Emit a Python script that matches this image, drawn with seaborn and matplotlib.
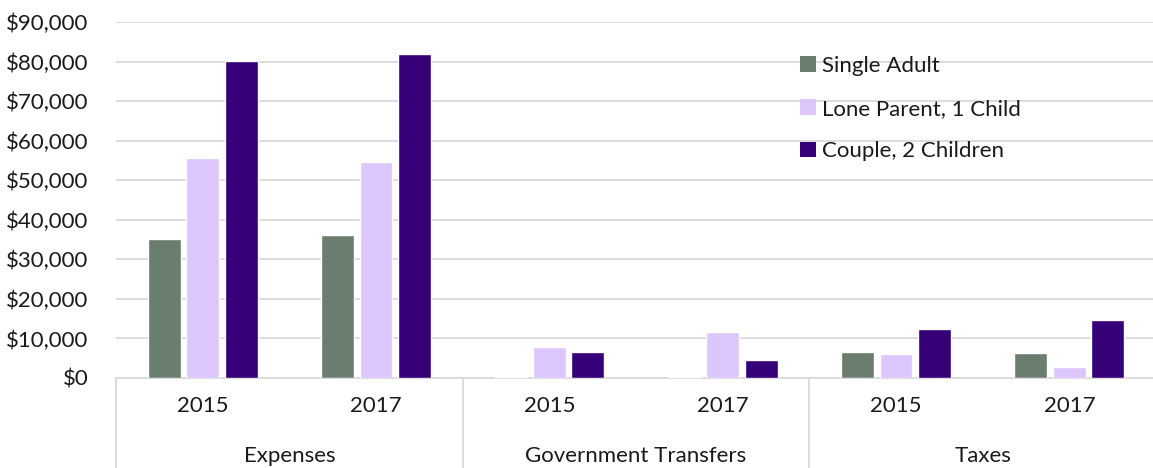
import matplotlib
matplotlib.use("Agg")
import matplotlib.pyplot as plt
import seaborn as sns
import pandas as pd
from matplotlib.ticker import FuncFormatter
from matplotlib.patches import Patch
from matplotlib.lines import Line2D

groups = ["Expenses", "Government Transfers", "Taxes"]
years = ["2015", "2017"]
series = ["Single Adult", "Lone Parent, 1 Child", "Couple, 2 Children"]
single_adult = [35200, 36200, 300, 300, 6600, 6200]
lone_parent = [55600, 54600, 7800, 11600, 6100, 2800]
couple = [80200, 82000, 6600, 4500, 12500, 14700]
colors = ["#6a7d6e", "#dcc6fc", "#350078"]

cats = [f"{g}|{y}" for g in groups for y in years]
rows = []
for s, vals in zip(series, [single_adult, lone_parent, couple]):
    for c, v in zip(cats, vals):
        rows.append({"cat": c, "series": s, "value": v})
df = pd.DataFrame(rows)

sns.set_style("white")
plt.rcParams["font.family"] = ["Lato", "DejaVu Sans"]

W, H = 1153, 468
fig = plt.figure(figsize=(W / 100, H / 100), dpi=100)
left, right, top, bottom = 116, 1156, 22, 378
ax = fig.add_axes([left / W, (H - bottom) / H, (right - left) / W, (bottom - top) / H])

sns.barplot(data=df, x="cat", y="value", hue="series", order=cats, hue_order=series,
            palette=colors, width=0.668, gap=0.147, ax=ax, legend=False,
            saturation=1, errorbar=None, zorder=3)

ax.set_ylim(0, 90000)
ax.set_xlim(-0.5, 5.5)
ax.set_yticks(range(0, 90001, 10000))
ax.yaxis.set_major_formatter(FuncFormatter(lambda v, p: f"${v:,.0f}"))
ax.grid(axis="y", color="#d9d9d9", linewidth=1.3, zorder=0)
ax.set_axisbelow(True)
for s in ["top", "right", "left"]:
    ax.spines[s].set_visible(False)
ax.spines["bottom"].set_color("#d9d9d9")
ax.spines["bottom"].set_linewidth(1.3)
ax.tick_params(axis="y", length=0, pad=20, labelsize=16, labelcolor="#1a1a1a")
ax.tick_params(axis="x", length=0, pad=13, labelsize=16, labelcolor="#1a1a1a")
ax.set_xticks(range(len(cats)))
ax.set_xticklabels([c.split("|")[1] for c in cats])
ax.set_xlabel("")
ax.set_ylabel("")

trans = ax.get_xaxis_transform()
ybot = -(H - bottom) / (bottom - top)
for xs in [-0.5, 1.5, 3.5, 5.5]:
    ax.add_line(Line2D([xs, xs], [0, ybot], transform=trans, color="#d9d9d9",
                       linewidth=1.3, clip_on=False))
for i, g in enumerate(groups):
    ax.text(2 * i + 0.5, -(456 - bottom) / (bottom - top), g, transform=trans,
            ha="center", va="center", fontsize=16, color="#1a1a1a")

handles = [Patch(facecolor=c, edgecolor="none") for c in colors]
leg = fig.legend(handles, series, loc="upper left", bbox_to_anchor=(800 / W, 1 - 56 / H),
                 frameon=False, fontsize=16, handlelength=0.7, handleheight=0.7,
                 handletextpad=0.3, labelspacing=1.02, borderaxespad=0, borderpad=0)
for t in leg.get_texts():
    t.set_color("#1a1a1a")

fig.savefig("out.png", dpi=100)
